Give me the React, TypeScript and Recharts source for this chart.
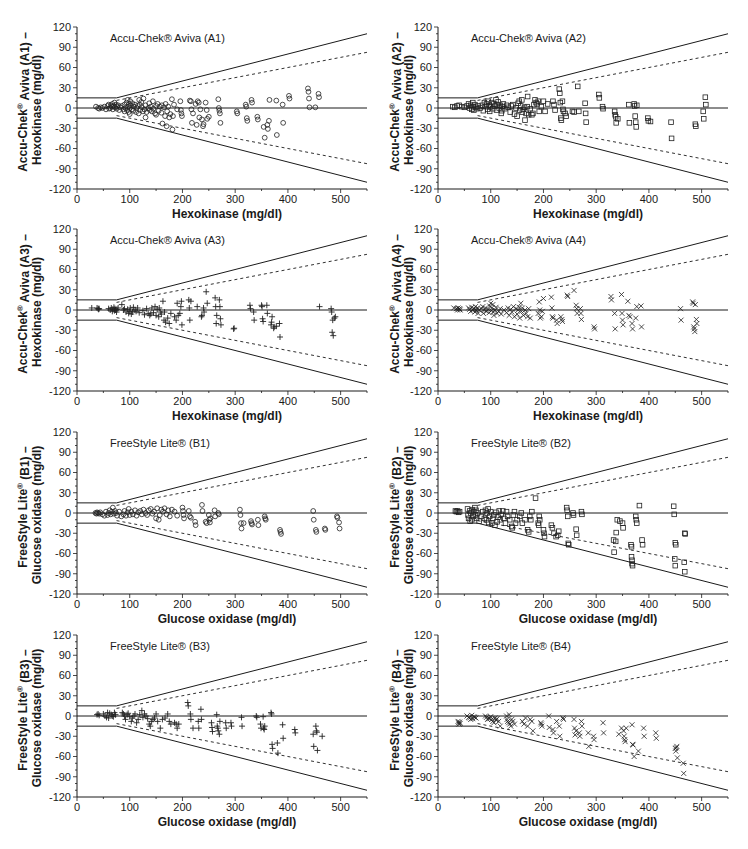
import React from 'react'
import { ScatterChart, Scatter, XAxis, YAxis, ReferenceLine, Label } from 'recharts'

const FONT = 'Arial, "Liberation Sans", Helvetica, sans-serif'
const INK = '#1a1a1a'

const X_TICKS = [0, 50, 100, 150, 200, 250, 300, 350, 400, 450, 500, 550]
const X_LABELED = [0, 100, 200, 300, 400, 500]
const Y_TICKS = [-120, -110, -100, -90, -80, -70, -60, -50, -40, -30, -20, -10, 0, 10, 20, 30, 40, 50, 60, 70, 80, 90, 100, 110, 120]
const Y_LABELED = [-120, -90, -60, -30, 0, 30, 60, 90, 120]

// limit lines: +-15 mg/dl below 75, +-20% above; dashed +-15%
const ZERO_LINE = [[0, 0], [550, 0]]
const UPPER_SOLID = [[0, 15], [75, 15], [550, 110]]
const LOWER_SOLID = [[0, -15], [75, -15], [550, -110]]
const UPPER_DASH = [[75, 11.25], [550, 82.5]]
const LOWER_DASH = [[75, -11.25], [550, -82.5]]

const a1 = [[36,2],[40,0],[42,-1],[45,1],[48,0],[52,2],[55,-2],[58,3],[60,5],[61,-1],[63,0],[64,4],[66,2],[67,6],[68,-2],[70,3],[71,8],[72,1],[74,5],[75,-1],[76,2],[78,4],[80,-3],[82,1],[85,3],[88,-2],[90,5],[90,-5],[92,0],[94,8],[95,-3],[96,12],[97,2],[98,-6],[99,6],[100,-9],[100,0],[101,10],[102,4],[104,-2],[105,7],[107,-4],[108,2],[110,5],[112,-6],[113,0],[115,3],[117,-8],[118,12],[119,5],[120,-3],[122,9],[123,1],[125,-5],[126,14],[128,-2],[130,4],[130,-14],[132,-6],[135,0],[137,7],[138,-3],[140,2],[142,-5],[144,10],[145,-1],[148,-8],[150,3],[150,-10],[153,6],[155,-4],[157,2],[160,-7],[161,4],[162,-23],[165,1],[167,-12],[168,6],[170,-27],[171,-5],[173,2],[175,-14],[177,-9],[180,13],[181,-32],[182,-12],[184,5],[190,-2],[196,10],[197,-3],[198,-8],[199,-12],[214,11],[216,10],[217,-2],[218,-22],[220,-8],[225,6],[227,-25],[229,10],[231,8],[232,-14],[234,-2],[237,-17],[239,-27],[240,-24],[244,8],[246,-3],[247,-16],[250,-13],[268,13],[269,0],[270,-4],[271,-8],[272,-22],[303,-5],[304,-8],[320,5],[321,2],[322,-15],[323,-19],[331,12],[332,8],[342,-13],[343,-17],[354,-28],[356,-44],[361,-25],[362,-31],[364,-19],[365,12],[378,11],[379,-40],[390,5],[391,-22],[402,18],[403,14],[438,29],[439,24],[440,14],[441,1],[452,1],[458,21],[459,16]]

const a2 = [[28,2],[32,1],[36,3],[40,4],[45,2],[50,1],[55,3],[58,6],[60,0],[62,4],[64,-2],[66,8],[67,2],[68,-3],[70,5],[72,1],[74,-1],[76,3],[80,0],[84,4],[86,-4],[88,8],[90,2],[92,6],[94,-2],[95,10],[97,4],[98,-5],[100,2],[102,8],[104,-1],[106,6],[108,3],[110,12],[111,-3],[112,5],[114,9],[116,0],[118,4],[120,-8],[121,-4],[122,2],[124,6],[127,-1],[130,4],[133,1],[137,-6],[139,3],[142,5],[145,-9],[148,0],[150,-12],[152,7],[154,10],[155,-3],[157,3],[159,12],[160,-6],[162,-2],[164,1],[165,-18],[167,-8],[169,2],[170,17],[172,-10],[175,-1],[178,-10],[180,-8],[182,5],[184,12],[186,8],[188,6],[190,10],[192,-5],[196,2],[200,10],[203,-5],[208,6],[218,10],[220,5],[222,-3],[230,28],[231,22],[232,8],[233,-15],[234,-18],[236,10],[237,-2],[238,-5],[241,-8],[243,-12],[255,-5],[258,-6],[265,32],[267,-5],[279,7],[280,-8],[281,-21],[305,20],[306,15],[312,2],[313,-1],[335,-5],[336,-10],[337,-13],[338,-22],[341,-16],[362,5],[363,-22],[372,6],[373,3],[374,-12],[375,-21],[376,-28],[377,4],[398,-15],[399,-19],[403,-20],[442,-21],[443,-45],[488,-24],[489,-27],[503,-5],[504,-16],[507,16],[508,5]]

const a3 = [[28,3],[38,3],[40,2],[41,1],[42,2],[60,2],[63,0],[65,3],[67,-2],[68,1],[70,4],[71,-1],[72,2],[73,0],[75,-3],[76,1],[78,3],[85,8],[88,0],[90,2],[93,-3],[96,1],[98,-5],[100,-2],[101,3],[103,-6],[105,-3],[107,4],[110,0],[112,-2],[115,3],[118,-4],[125,-1],[128,-7],[132,2],[135,-5],[138,-8],[140,-6],[142,3],[145,-4],[148,5],[150,-8],[152,1],[155,-10],[156,3],[158,-3],[160,-6],[163,13],[165,-15],[166,-3],[168,-18],[172,-12],[175,-20],[178,-5],[185,-10],[188,-15],[190,10],[192,-8],[195,-5],[197,5],[198,13],[199,-22],[212,15],[213,3],[214,-15],[216,13],[228,5],[236,-10],[237,-8],[240,3],[241,-3],[245,27],[247,10],[262,18],[263,5],[264,-20],[265,-8],[270,15],[271,5],[272,-13],[273,-22],[297,-28],[298,-27],[328,7],[329,2],[335,-3],[336,-15],[350,7],[351,5],[352,-13],[353,-17],[360,7],[361,-5],[368,-22],[369,-18],[370,-10],[373,-27],[374,-25],[378,-24],[384,-20],[385,-40],[460,5],[482,2],[483,-3],[484,-33],[485,-15],[486,-38],[488,-12],[490,-10]]

const a4 = [[30,3],[35,2],[37,0],[38,3],[40,1],[41,2],[42,0],[58,3],[60,1],[62,-2],[64,4],[66,0],[68,2],[70,-3],[71,5],[72,1],[73,-1],[75,3],[76,-5],[78,0],[82,2],[85,5],[86,-5],[88,0],[90,3],[92,-2],[95,1],[97,-4],[98,6],[100,10],[101,-1],[102,3],[104,8],[105,-3],[106,-8],[108,0],[110,4],[112,-5],[115,-2],[118,2],[120,-6],[125,0],[130,-4],[133,3],[135,-8],[138,1],[140,-3],[143,5],[145,-10],[148,2],[150,-6],[152,0],[154,4],[155,-12],[157,10],[158,-2],[160,3],[162,-8],[165,0],[167,-5],[170,-10],[172,2],[175,-12],[190,-5],[192,12],[193,0],[194,-12],[196,-10],[198,-2],[200,17],[215,19],[216,3],[217,-10],[218,-12],[225,-15],[226,-20],[233,-10],[235,-14],[236,-17],[245,22],[246,20],[258,29],[262,7],[263,2],[264,-5],[270,2],[271,-5],[272,-14],[296,-25],[297,-28],[328,20],[329,15],[335,-5],[336,-28],[348,23],[349,-5],[350,-15],[351,-22],[360,13],[362,-8],[364,-10],[368,-20],[369,-28],[375,-12],[377,5],[385,6],[386,-25],[460,2],[461,-15],[483,12],[484,10],[485,-25],[486,-28],[487,-32],[488,8],[490,-14],[491,-20]]

const b1 = [[35,0],[37,-1],[38,1],[40,0],[42,-1],[44,1],[48,-2],[52,-4],[55,2],[58,-3],[60,0],[62,4],[64,-2],[66,2],[68,8],[70,-1],[72,3],[74,0],[76,-4],[80,2],[84,-5],[88,-2],[90,3],[93,-4],[96,1],[98,6],[100,-3],[103,2],[106,-2],[110,4],[113,-4],[116,1],[120,3],[123,-2],[126,5],[130,0],[133,-3],[136,4],[140,6],[143,-1],[146,2],[150,-8],[152,7],[155,-10],[157,-3],[160,5],[163,2],[166,7],[170,-2],[173,4],[176,-5],[180,5],[185,2],[190,-4],[200,8],[201,3],[202,-3],[203,-8],[212,3],[214,-5],[216,-7],[224,-13],[225,-18],[237,12],[238,3],[244,-13],[246,-15],[250,-3],[251,-10],[252,-14],[253,-8],[261,4],[262,-5],[268,0],[269,-2],[309,5],[310,-3],[311,-15],[312,-23],[316,-15],[330,-12],[331,-15],[332,-17],[343,-10],[344,-18],[356,-5],[357,-8],[358,-10],[385,-25],[386,-28],[387,-31],[448,3],[449,-10],[453,-25],[454,-28],[470,-23],[471,-25],[493,-5],[494,-7],[497,-14],[498,-23]]

const b2 = [[33,3],[35,2],[37,3],[39,1],[41,2],[56,6],[57,-3],[58,-8],[60,3],[61,-12],[62,0],[64,-10],[65,5],[67,-5],[68,2],[70,8],[71,-3],[72,4],[73,-8],[75,0],[78,-12],[82,-5],[85,2],[88,-8],[90,4],[92,-10],[93,0],[95,6],[96,-14],[98,-5],[100,2],[102,-15],[104,-8],[106,-3],[108,-18],[110,1],[112,-13],[114,-6],[116,3],[118,-10],[120,-2],[123,3],[125,-8],[128,-15],[130,2],[132,-5],[136,-10],[140,-20],[141,-22],[143,-3],[145,2],[147,-15],[150,-10],[155,-5],[158,0],[160,-15],[165,-10],[170,-25],[172,-28],[174,-5],[176,-10],[178,2],[185,22],[190,-15],[191,-18],[192,-5],[193,-10],[200,-25],[201,-30],[202,-35],[215,-18],[217,-22],[220,-30],[224,-35],[227,-33],[229,-27],[244,8],[245,4],[246,-5],[247,-45],[248,-47],[256,0],[257,-3],[262,-24],[263,-33],[272,2],[273,-2],[333,-40],[334,-58],[337,-42],[338,-29],[340,-10],[345,-12],[350,-15],[351,-22],[366,-47],[367,-50],[367,-65],[368,-70],[368,-75],[369,-78],[375,-5],[376,-10],[377,-15],[382,11],[387,-40],[388,-47],[447,10],[448,-2],[450,-44],[451,-47],[449,-68],[450,-78],[468,-30],[469,-31],[467,-73],[468,-87]]

const b3 = [[38,2],[40,3],[42,1],[50,3],[53,0],[56,-2],[58,5],[60,-3],[62,4],[65,2],[67,0],[69,-1],[71,5],[73,2],[86,5],[88,3],[90,0],[92,-5],[95,2],[97,4],[100,-1],[103,-8],[105,-3],[108,0],[110,3],[113,-10],[116,-5],[119,2],[123,8],[125,-2],[128,3],[131,0],[134,-4],[137,-12],[139,-15],[141,-8],[144,-5],[147,-3],[150,3],[153,-8],[158,-18],[162,-5],[167,-3],[172,3],[175,-8],[178,-12],[185,-10],[188,-12],[190,-18],[193,-12],[210,20],[211,15],[215,3],[216,-5],[220,-18],[230,-8],[231,-18],[235,10],[236,-5],[255,-10],[256,-17],[257,-23],[265,2],[266,-15],[267,-18],[268,-22],[270,-27],[271,-8],[282,-10],[283,-18],[292,-10],[293,-15],[312,-2],[313,-15],[340,0],[341,-2],[348,-12],[349,-18],[353,-1],[354,-18],[355,-20],[356,-15],[368,5],[369,3],[370,-42],[371,-48],[380,-40],[381,-55],[390,-13],[391,-33],[413,-20],[414,-25],[448,-27],[449,-45],[453,-15],[454,-22],[455,-24],[456,-51],[465,-30]]

const b4 = [[38,-8],[39,-10],[40,-12],[41,-9],[42,-11],[55,0],[58,-2],[60,-3],[62,-5],[64,1],[66,-4],[68,-1],[70,-2],[72,-3],[90,0],[92,-2],[94,-5],[96,-3],[98,-4],[100,-1],[102,-5],[104,-8],[106,-10],[108,-3],[110,-6],[112,-4],[115,-8],[118,-15],[130,0],[131,-5],[132,-8],[134,-10],[135,2],[136,-12],[138,-15],[140,-5],[142,-8],[145,-12],[160,-8],[163,-12],[166,-3],[170,-15],[175,-5],[178,-8],[180,-22],[195,-10],[196,-12],[197,-15],[210,0],[211,-17],[218,-20],[219,-25],[225,-8],[230,-15],[231,-30],[237,-3],[238,-5],[258,-5],[259,-18],[260,-28],[262,-22],[268,-25],[269,-30],[272,-8],[273,-15],[285,-25],[286,-45],[295,-30],[296,-35],[313,-10],[314,-25],[343,-27],[348,-18],[352,-22],[353,-30],[354,-35],[355,-38],[357,-18],[368,-13],[369,-42],[370,-43],[372,-60],[380,-52],[390,-18],[391,-30],[413,-25],[414,-33],[450,-48],[451,-52],[452,-47],[453,-45],[454,-62],[465,-70],[466,-85]]

const MARK = '#222'
const circleShape = (p: any) => <circle cx={p.cx} cy={p.cy} r={2.4} fill="none" stroke={MARK} strokeWidth={0.8} />
const squareShape = (p: any) => <rect x={p.cx - 2.3} y={p.cy - 2.3} width={4.6} height={4.6} fill="none" stroke={MARK} strokeWidth={0.8} />
const plusShape = (p: any) => (
  <path d={`M${p.cx - 3},${p.cy}H${p.cx + 3}M${p.cx},${p.cy - 3}V${p.cy + 3}`} stroke={MARK} strokeWidth={0.9} fill="none" />
)
const crossShape = (p: any) => (
  <path d={`M${p.cx - 2.5},${p.cy - 2.5}L${p.cx + 2.5},${p.cy + 2.5}M${p.cx - 2.5},${p.cy + 2.5}L${p.cx + 2.5},${p.cy - 2.5}`} stroke={MARK} strokeWidth={0.8} fill="none" />
)

const PANELS = [
  { data: a1, shape: circleShape, brand: 'Accu-Chek', model: ' Aviva', code: 'A1', ref: 'Hexokinase' },
  { data: a2, shape: squareShape, brand: 'Accu-Chek', model: ' Aviva', code: 'A2', ref: 'Hexokinase' },
  { data: a3, shape: plusShape, brand: 'Accu-Chek', model: ' Aviva', code: 'A3', ref: 'Hexokinase' },
  { data: a4, shape: crossShape, brand: 'Accu-Chek', model: ' Aviva', code: 'A4', ref: 'Hexokinase' },
  { data: b1, shape: circleShape, brand: 'FreeStyle Lite', model: '', code: 'B1', ref: 'Glucose oxidase' },
  { data: b2, shape: squareShape, brand: 'FreeStyle Lite', model: '', code: 'B2', ref: 'Glucose oxidase' },
  { data: b3, shape: plusShape, brand: 'FreeStyle Lite', model: '', code: 'B3', ref: 'Glucose oxidase' },
  { data: b4, shape: crossShape, brand: 'FreeStyle Lite', model: '', code: 'B4', ref: 'Glucose oxidase' },
]

const ROW_TOPS = [17, 219, 422, 625]
const COL_LEFTS = [0, 361]

function YTick({ x, y, payload }: any) {
  const major = Y_LABELED.includes(payload.value)
  return (
    <g>
      <line x1={x - (major ? 4 : 2)} x2={x} y1={y} y2={y} stroke={INK} strokeWidth={0.8} />
      {major && (
        <text x={x - 6} y={y} dy="0.35em" textAnchor="end" fontSize={11} fill={INK} fontFamily={FONT}>
          {payload.value}
        </text>
      )}
    </g>
  )
}

function XTick({ x, y, payload }: any) {
  const major = X_LABELED.includes(payload.value)
  return (
    <g>
      <line x1={x} x2={x} y1={y} y2={y + (major ? 4 : 2)} stroke={INK} strokeWidth={0.8} />
      {major && (
        <text x={x} y={y + 10} dy="0.35em" textAnchor="middle" fontSize={11} fill={INK} fontFamily={FONT}>
          {payload.value}
        </text>
      )}
    </g>
  )
}

function Segments({ pts, dash }: { pts: number[][]; dash?: boolean }) {
  return (
    <>
      {pts.slice(1).map((p, i) => (
        <ReferenceLine
          key={i}
          segment={[{ x: pts[i][0], y: pts[i][1] }, { x: p[0], y: p[1] }]}
          stroke={INK}
          strokeWidth={dash ? 0.9 : 1}
          strokeDasharray={dash ? '3 3' : undefined}
        />
      ))}
    </>
  )
}

function Panel({ panel, col }: { panel: (typeof PANELS)[number]; col: number }) {
  const pts = panel.data.map(([x, y]) => ({ x, y }))
  const l1 = col === 0 ? 54 : 43
  const l2 = col === 0 ? 40 : 29

  const yLabel = (props: any) => {
    const vb = props.viewBox || {}
    const plotLeft = vb.x + vb.width
    const mid = vb.y + vb.height / 2
    return (
      <g fontFamily={FONT} fill={INK}>
        <text
          x={plotLeft - l1}
          y={mid - 6}
          dy="0.35em"
          textAnchor="middle"
          fontSize={12}
          fontWeight="bold"
          transform={`rotate(-90, ${plotLeft - l1}, ${mid - 6})`}
        >
          {panel.brand}
          <tspan fontSize={8} dy="-0.5em">®</tspan>
          <tspan dy="0.5em">{`${panel.model} (${panel.code}) –`}</tspan>
        </text>
        <text
          x={plotLeft - l2}
          y={mid + 2}
          dy="0.35em"
          textAnchor="middle"
          fontSize={12}
          fontWeight="bold"
          transform={`rotate(-90, ${plotLeft - l2}, ${mid + 2})`}
        >
          {`${panel.ref} (mg/dl)`}
        </text>
        <text x={plotLeft + 33} y={vb.y + 15} fontSize={11}>
          {`${panel.brand}®${panel.model} (${panel.code})`}
        </text>
      </g>
    )
  }

  const xLabel = (props: any) => {
    const vb = props.viewBox || {}
    return (
      <text
        x={vb.x + vb.width / 2 + 5}
        y={vb.y + 29}
        textAnchor="middle"
        fontSize={12}
        fontWeight="bold"
        fontFamily={FONT}
        fill={INK}
      >
        {`${panel.ref} (mg/dl)`}
      </text>
    )
  }

  return (
    <ScatterChart width={374} height={212} margin={{ top: 10, right: 7, bottom: 0, left: 0 }}>
      <XAxis
        type="number"
        dataKey="x"
        domain={[0, 550]}
        ticks={X_TICKS}
        interval={0}
        tickSize={0}
        tickMargin={0}
        tickLine={false}
        tick={<XTick />}
        axisLine={{ stroke: INK, strokeWidth: 1 }}
        height={40}
        allowDataOverflow
      >
        <Label content={xLabel} />
      </XAxis>
      <YAxis
        type="number"
        dataKey="y"
        domain={[-120, 120]}
        ticks={Y_TICKS}
        interval={0}
        tickSize={0}
        tickMargin={0}
        tickLine={false}
        tick={<YTick />}
        axisLine={{ stroke: INK, strokeWidth: 1 }}
        width={77}
        allowDataOverflow
      >
        <Label content={yLabel} />
      </YAxis>
      <Segments pts={ZERO_LINE} />
      <Segments pts={UPPER_SOLID} />
      <Segments pts={LOWER_SOLID} />
      <Segments pts={UPPER_DASH} dash />
      <Segments pts={LOWER_DASH} dash />
      <Scatter data={pts} shape={panel.shape} isAnimationActive={false} />
    </ScatterChart>
  )
}

export default function App() {
  return (
    <div style={{ position: 'absolute', left: 0, top: 0, width: 748, height: 849, background: '#fff' }}>
      {PANELS.map((p, i) => (
        <div
          key={p.code}
          style={{ position: 'absolute', left: COL_LEFTS[i % 2], top: ROW_TOPS[Math.floor(i / 2)], width: 374, height: 212 }}
        >
          <Panel panel={p} col={i % 2} />
        </div>
      ))}
    </div>
  )
}
